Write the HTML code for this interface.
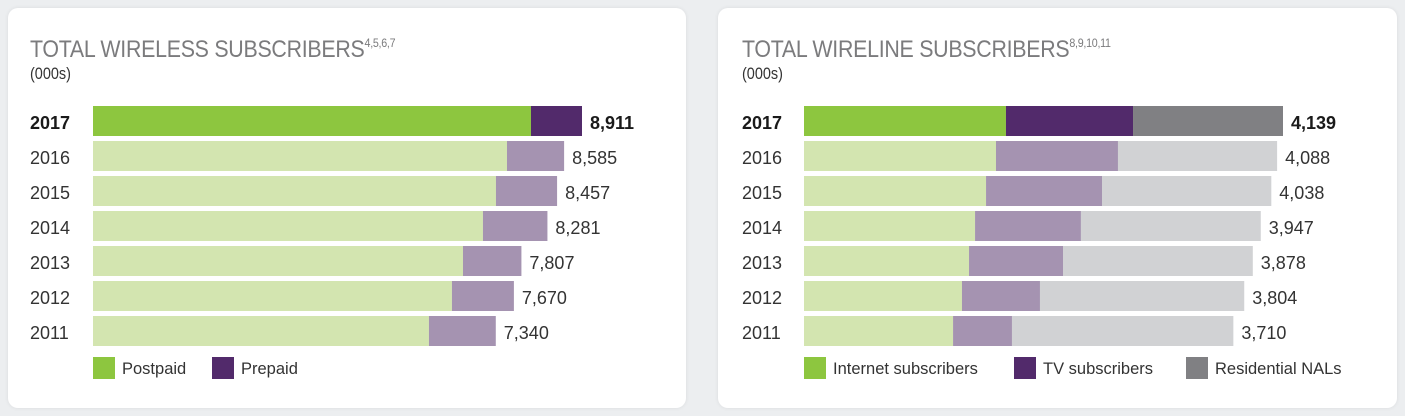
<!DOCTYPE html>
<html><head><meta charset="utf-8"><style>
body{margin:0;width:1405px;height:416px;background:#eceef0;font-family:"Liberation Sans",sans-serif;position:relative;overflow:hidden}
.card{position:absolute;top:8px;height:400px;background:#fff;border-radius:10px;box-shadow:0 0 4px rgba(0,0,0,.08)}
.title{position:absolute;font-size:24px;color:#7b7b7d;letter-spacing:-0.3px;transform:scaleX(0.89);transform-origin:0 0;white-space:nowrap}
.title sup{font-size:12px;vertical-align:10px}
.unit{position:absolute;font-size:17px;color:#333;transform:scaleX(0.85);transform-origin:0 0}
svg{position:absolute;left:0;top:0}
</style></head><body>
<div class="card" style="left:8px;width:678px"></div>
<div class="card" style="left:718px;width:679px"></div>
<div class="title" style="left:30px;top:36px">TOTAL WIRELESS SUBSCRIBERS<sup>4,5,6,7</sup></div>
<div class="unit" style="left:30px;top:64px">(000s)</div>
<div class="title" style="left:742px;top:36px">TOTAL WIRELINE SUBSCRIBERS<sup>8,9,10,11</sup></div>
<div class="unit" style="left:742px;top:64px">(000s)</div>
<svg id="chart" width="1405" height="416"></svg>
<script>
const years=["2017","2016","2015","2014","2013","2012","2011"];
const postpaid=[7981,7544,7343,7106,6742,6541,6122];
const prepaid=[930,1041,1114,1175,1065,1129,1218];
const wirelessTotals=["8,911","8,585","8,457","8,281","7,807","7,670","7,340"];
const internet=[1745,1659,1573,1478,1426,1365,1288];
const tv=[1098,1054,1002,915,812,674,509];
const nals=[1296,1375,1463,1554,1640,1765,1913];
const wirelineTotals=["4,139","4,088","4,038","3,947","3,878","3,804","3,710"];

const svg=document.getElementById('chart');
const NS='http://www.w3.org/2000/svg';
function mk(tag,attrs){const e=document.createElementNS(NS,tag);for(const k in attrs)e.setAttribute(k,attrs[k]);svg.appendChild(e);return e;}
const rowY=i=>106+i*35;
function drawChart(x0,scale,series,darkC,lightC,totals,labelX,prefix,legendNames,legendX){
  years.forEach((yr,i)=>{
    const y=rowY(i);let x=x0;
    const t=mk('text',{x:labelX,y:y+23,'font-size':'18','font-weight':i===0?'bold':'normal',fill:i===0?'#1a1a1a':'#333'});
    t.textContent=yr;
    
    
    series.forEach((s,j)=>{
      const w=s[i]*scale;
      const r=mk('rect',{x:x,y:y,width:w,height:30,fill:i===0?darkC[j]:lightC[j]});
      
      
      x+=w;
    });
    const v=mk('text',{x:x+8,y:y+23,'font-size':'18','font-weight':i===0?'bold':'normal',fill:i===0?'#1a1a1a':'#333'});
    v.textContent=totals[i];
    
    
  });
  legendNames.forEach((n,j)=>{
    const r=mk('rect',{x:legendX[j],y:357,width:22,height:22,fill:darkC[j]});
    
    
    const t=mk('text',{x:legendX[j]+29,y:374,'font-size':'16.5',fill:'#333'});
    t.textContent=n;
    
    
  });
}
drawChart(93,489/8911,[postpaid,prepaid],['#8dc63f','#522a6b'],['#d3e5b0','#a593b1'],wirelessTotals,30,'wireless',['Postpaid','Prepaid'],[93,212]);
drawChart(804,479/4139,[internet,tv,nals],['#8dc63f','#522a6b','#808083'],['#d3e5b0','#a593b1','#d1d2d4'],wirelineTotals,742,'wireline',['Internet subscribers','TV subscribers','Residential NALs'],[804,1014,1186]);
</script>
</body></html>
